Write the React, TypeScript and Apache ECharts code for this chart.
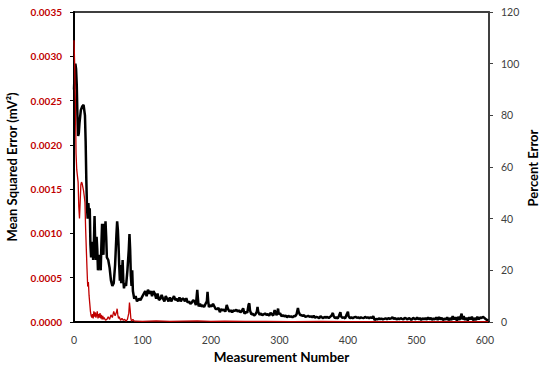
import React, { useEffect, useRef } from "react";
import * as echarts from "echarts";

const xTicks = [0, 100, 200, 300, 400, 500, 600];
const mseTicks = [0, 0.0005, 0.001, 0.0015, 0.002, 0.0025, 0.003, 0.0035];
const pctTicks = [0, 20, 40, 60, 80, 100, 120];

// Percent error (right axis): [measurement number, percent]
const percentError: [number, number][] = [
  [0, 90], [1, 97], [2, 100], [3, 98], [4, 92], [5, 80], [6, 72], [7, 73], [8, 77], [10, 82],
  [12, 83.5], [14, 84], [16, 80], [17, 70], [18, 55], [19, 44], [20, 40], [21, 46], [22, 41], [23, 44],
  [24, 30], [25, 25], [26, 31], [27, 29], [28, 24], [29, 30], [30, 41], [31, 30], [32, 24], [33, 33],
  [34, 28], [35, 20], [36, 26], [38, 23], [39, 20], [40, 30], [41, 38], [42, 32], [43, 26], [44, 38],
  [45, 32], [46, 39], [47, 33], [48, 25], [50, 24], [52, 21], [54, 16], [56, 14], [58, 15], [60, 22],
  [62, 34], [63, 39], [64, 36], [65, 30], [66, 22], [67, 16], [68, 22], [69, 15], [70, 18], [71, 24],
  [72, 16], [73, 13], [74, 15], [76, 14], [78, 20], [80, 28], [81, 34], [82, 28], [83, 18], [84, 14],
  [85, 20], [86, 12], [88, 9], [90, 10], [92, 8], [95, 9], [97, 8.5], [100, 10], [102, 11], [104, 12],
  [106, 10], [108, 12.5], [110, 11], [112, 12], [114, 10], [116, 12], [118, 11], [120, 9], [122, 11], [124, 8.5],
  [126, 9], [128, 10.5], [130, 9], [132, 8], [134, 10], [136, 9], [138, 8], [140, 9.5], [142, 8], [144, 9],
  [146, 10], [148, 8.5], [150, 9], [152, 8], [154, 9.5], [156, 8], [158, 9], [160, 9], [162, 8], [164, 9.2],
  [166, 7.5], [168, 8], [170, 7], [172, 7.5], [174, 8.5], [176, 8], [178, 6.5], [180, 12.4], [181, 9], [182, 6],
  [184, 7], [186, 6], [188, 6.5], [190, 5.8], [192, 7], [194, 8], [195, 11.7], [196, 8], [197, 5.8], [199, 6.5],
  [201, 6], [203, 7], [205, 6], [207, 5], [209, 5], [211, 5.5], [213, 3.8], [215, 5], [217, 4.5], [219, 4.8],
  [221, 4], [223, 6.6], [225, 5], [227, 4], [229, 4.5], [231, 3.8], [233, 4.5], [235, 4.3], [237, 4.8], [239, 4],
  [241, 4.5], [243, 3.8], [245, 4.2], [247, 5.3], [249, 3.2], [251, 4], [253, 3.6], [255, 6.8], [256, 7.2], [257, 4.5],
  [259, 3], [261, 3.2], [263, 2.5], [265, 3], [267, 4], [268, 5.8], [269, 4], [271, 2.8], [273, 3.3], [275, 2.6],
  [277, 3], [279, 3.3], [281, 2.8], [283, 3], [285, 2.5], [287, 3.5], [289, 3], [291, 2.5], [293, 4.6], [294, 3.8],
  [296, 2.6], [298, 5.2], [299, 3], [301, 3.4], [303, 2.2], [305, 2.6], [307, 2.2], [309, 2.5], [311, 1.8], [313, 2.4],
  [315, 2], [317, 2.2], [319, 1.8], [321, 2.3], [323, 2.2], [325, 3], [327, 5.4], [328, 4], [330, 2.8], [332, 2.6],
  [334, 2.4], [336, 2.6], [338, 2], [340, 2.2], [342, 2.4], [344, 2], [346, 2.2], [348, 1.8], [350, 2.4], [352, 1.6],
  [354, 2], [356, 1.8], [358, 1.5], [360, 2.2], [362, 1.8], [364, 1.5], [366, 2], [368, 1.6], [370, 2], [372, 1.5],
  [374, 2], [376, 2.5], [378, 3.5], [379, 2.4], [381, 1.5], [383, 1.8], [385, 1.4], [387, 2.4], [389, 3.8], [390, 2.2],
  [392, 1.6], [394, 1.8], [396, 1.4], [398, 2.8], [400, 4], [401, 2.2], [403, 1.5], [405, 1.8], [407, 1.5], [409, 1.8],
  [411, 2], [413, 1.6], [415, 1.8], [417, 1.5], [419, 1.8], [421, 1.6], [423, 1.5], [425, 2], [427, 1.6], [429, 1.8],
  [431, 1.5], [433, 1.8], [435, 1.6], [437, 2.2], [439, 0.8], [441, 1.2], [443, 1], [445, 1.4], [447, 1.1], [449, 1.3],
  [451, 1], [453, 1.2], [455, 1.4], [457, 1.1], [459, 1.5], [461, 1.2], [463, 1.4], [465, 1.8], [467, 1.2], [469, 1.5],
  [471, 1], [473, 1.4], [475, 1.1], [477, 1.5], [479, 1.2], [481, 1], [483, 1.6], [485, 1.4], [487, 1], [489, 1.5],
  [491, 1.2], [493, 0.8], [495, 1.6], [497, 1.3], [499, 1], [501, 1.8], [503, 1], [505, 1.5], [507, 0.8], [509, 1.4],
  [511, 1.1], [513, 1.5], [515, 0.9], [517, 1.8], [519, 1], [521, 1.6], [523, 0.8], [525, 1.4], [527, 1], [529, 1.8],
  [531, 0.8], [533, 1.9], [535, 1], [537, 1.6], [539, 0.7], [541, 1.4], [543, 0.9], [545, 1.8], [547, 0.7], [549, 1.5],
  [551, 0.8], [553, 2.2], [555, 1], [557, 1.8], [559, 0.6], [561, 2], [563, 0.8], [565, 2.4], [566, 3.2], [567, 1],
  [569, 2.2], [571, 0.8], [573, 1.6], [575, 0.6], [577, 1.8], [579, 1], [581, 2], [583, 0.7], [585, 1.5], [587, 0.8],
  [589, 2], [591, 1], [593, 1.8], [595, 1.5], [597, 2], [599, 1.6], [601, 1.2], [603, 0.8], [605, 0.5],
];

// Mean squared error (left axis): [measurement number, mV^2]
const meanSquaredError: [number, number][] = [
  [0, 0.00318], [1, 0.0029], [2, 0.0025], [3, 0.0019], [4, 0.00172], [5, 0.00165], [6, 0.00158], [7, 0.0013],
  [8, 0.00117], [9, 0.00135], [10, 0.00155], [11, 0.00158], [12, 0.00156], [13, 0.00152], [14, 0.00148], [15, 0.00142],
  [16, 0.00135], [17, 0.00105], [18, 0.00082], [19, 0.0006], [20, 0.0004], [21, 0.00045], [22, 0.0003], [23, 0.00021],
  [24, 0.00012], [25, 0.00007], [26, 0.00005], [27, 0.00009], [28, 0.00004], [29, 0.00012], [30, 0.00006], [31, 0.00011],
  [32, 0.00005], [33, 0.00008], [34, 0.00012], [35, 0.00004], [36, 0.00009], [37, 0.00005], [38, 0.0001], [39, 0.00004],
  [40, 0.00008], [41, 0.00003], [42, 0.00007], [43, 0.00003], [44, 0.00005], [46, 0.00002], [48, 0.00003], [50, 0.00006],
  [52, 0.00003], [54, 0.00008], [56, 0.00005], [58, 0.00012], [60, 0.00007], [62, 0.00011], [63, 0.00015], [64, 0.00008],
  [65, 0.00004], [66, 0.00006], [68, 0.00002], [70, 0.00004], [72, 0.00002], [74, 0.00003], [76, 0.00001], [78, 0.00003],
  [80, 0.0001], [81, 0.00022], [82, 0.00014], [83, 0.00004], [84, 0.00001], [86, 0.00003], [88, 0.00001], [90, 0.00001],
  [100, 0.000008], [120, 0.000012], [140, 0.000006], [160, 0.00001], [180, 0.000012], [200, 0.000008], [220, 0.00001],
  [250, 0.000006], [280, 0.000008], [320, 0.000005], [360, 0.000006], [400, 0.000005], [450, 0.000005], [500, 0.000004],
  [550, 0.000005], [605, 0.000004],
];

const FONT = "Lato, 'Open Sans', sans-serif";

export default function App() {
  const ref = useRef<HTMLDivElement>(null);
  useEffect(() => {
    if (!ref.current) return;
    const chart = echarts.init(ref.current, undefined, { renderer: "svg" });
    chart.setOption({
      animation: false,
      backgroundColor: "#ffffff",
      textStyle: { fontFamily: FONT },
      grid: {
        left: 74,
        right: 52,
        top: 12,
        bottom: 44,
        containLabel: false,
        outerBoundsMode: "none",
        show: true,
        borderColor: "#000000",
        borderWidth: 1.5,
      },
      graphic: [
        {
          type: "text",
          x: 533,
          y: 168,
          rotation: Math.PI / 2,
          style: {
            text: "Percent Error",
            fontFamily: FONT,
            fontWeight: "bold",
            fontSize: 13,
            fill: "#000",
            align: "center",
            verticalAlign: "middle",
          },
        },
      ],
      xAxis: {
        type: "value",
        min: xTicks[0],
        max: 606,
        interval: 100,
        name: "Measurement Number",
        nameLocation: "middle",
        nameGap: 28,
        nameTextStyle: { fontFamily: FONT, fontWeight: "bold", fontSize: 13.5, color: "#000" },
        axisLine: { show: true, lineStyle: { color: "#000", width: 2 } },
        axisTick: { show: false },
        splitLine: { show: false },
        axisLabel: {
          fontFamily: FONT,
          fontSize: 10.5,
          color: "#404040",
          margin: 12,
          formatter: (v: number) => (xTicks.includes(v) ? String(v) : ""),
        },
      },
      yAxis: [
        {
          type: "value",
          min: mseTicks[0],
          max: mseTicks[mseTicks.length - 1],
          interval: 0.0005,
          position: "left",
          name: "Mean Squared Error (mV²)",
          nameLocation: "middle",
          nameRotate: 90,
          nameGap: 56,
          nameTextStyle: { fontFamily: FONT, fontWeight: "bold", fontSize: 13, color: "#000" },
          axisLine: { show: true, lineStyle: { color: "#000", width: 2 } },
          axisTick: { show: true, inside: false, length: 4, lineStyle: { color: "#000", width: 1 } },
          splitLine: { show: false },
          axisLabel: {
            fontFamily: FONT,
            fontSize: 10,
            fontWeight: "bold",
            color: "#c00000",
            margin: 12,
            formatter: (v: number) => v.toFixed(4),
          },
        },
        {
          type: "value",
          min: pctTicks[0],
          max: pctTicks[pctTicks.length - 1],
          interval: 20,
          position: "right",
          axisLine: { show: true, lineStyle: { color: "#404040", width: 2 } },
          axisTick: { show: true, inside: false, length: 4, lineStyle: { color: "#404040", width: 1 } },
          splitLine: { show: false },
          axisLabel: { fontFamily: FONT, fontSize: 10.5, color: "#404040", margin: 12 },
        },
      ],
      series: [
        {
          type: "line",
          name: "Percent Error",
          yAxisIndex: 1,
          data: percentError,
          showSymbol: false,
          lineStyle: { color: "#000000", width: 2.5 },
          z: 2,
        },
        {
          type: "line",
          name: "Mean Squared Error",
          yAxisIndex: 0,
          data: meanSquaredError,
          showSymbol: false,
          lineStyle: { color: "#c00000", width: 1.3 },
          z: 3,
        },
      ],
    });
    return () => chart.dispose();
  }, []);
  return (
    <div
      ref={ref}
      style={{ position: "absolute", left: 0, top: 0, width: 541, height: 366, overflow: "hidden" }}
    />
  );
}
